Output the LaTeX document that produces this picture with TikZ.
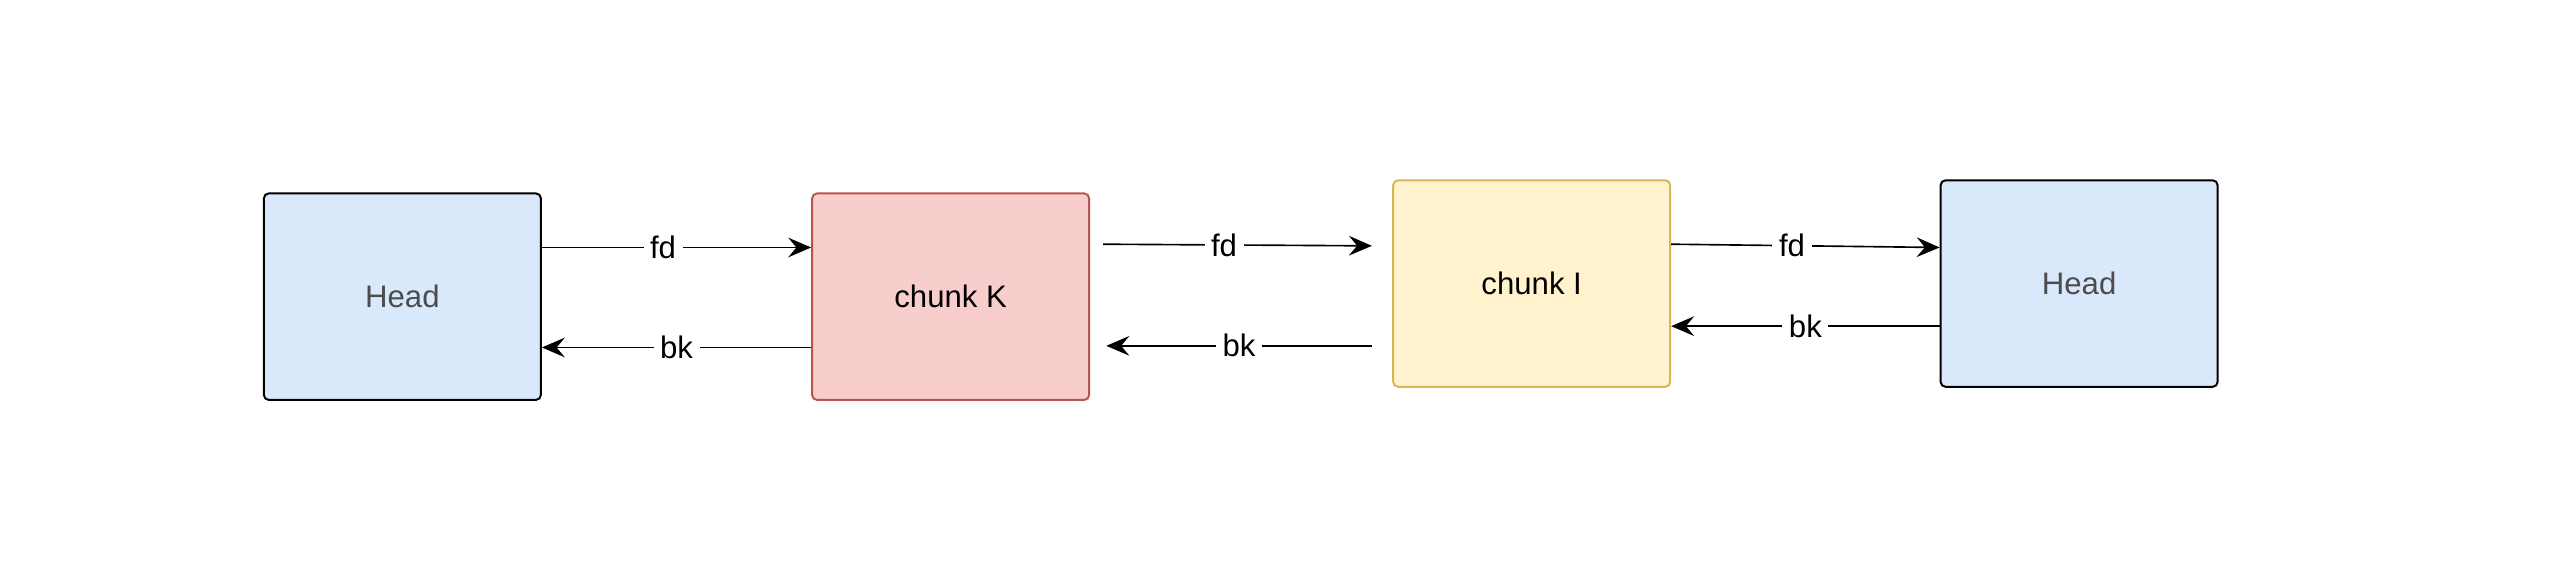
\documentclass[tikz,border=0pt]{standalone}
\usepackage{fontspec}
\setmainfont{Liberation Sans}
\usetikzlibrary{arrows.meta}
\definecolor{headfill}{HTML}{DAE8FC}
\definecolor{kfill}{HTML}{F8CECC}
\definecolor{kdraw}{HTML}{B85450}
\definecolor{ifill}{HTML}{FFF2CC}
\definecolor{idraw}{HTML}{D6B656}
\tikzset{
    chunk/.style = {rectangle, draw, rounded corners=1.5pt, line width=0.6pt,
        minimum width=84.5pt, minimum height=63pt, font=\fontsize{9.5}{11}\selectfont},
    link/.style = {-{Stealth[length=7pt,width=6pt,inset=2.5pt]}, line width=0.5pt},
    tag/.style = {fill=white, inner sep=2pt, font=\fontsize{9.5}{11}\selectfont}
}

\begin{document}
\begin{tikzpicture}[x=0.5pt, y=-0.5pt]
    \useasboundingbox (0,0) rectangle (1568,357.5);
    \node (h1) [chunk, fill=headfill, text=black!70] at (245.5,181) {Head};
    \node (ck) [chunk, fill=kfill, draw=kdraw] at (580,181) {chunk K};
    \node (ci) [chunk, fill=ifill, draw=idraw] at (934.5,173) {chunk I};
    \node (h2) [chunk, fill=headfill, text=black!70] at (1268.5,173) {Head};

    % loose ends between chunk K and chunk I
    \coordinate (kfd) at (673,149);
    \coordinate (ifd) at (837,150);
    \coordinate (ibk) at (837,211);
    \coordinate (kbk) at (675,211);

    \draw [link] (h1.east |- 0,151) -- node[tag, pos=0.45] {fd} (ck.west |- 0,151);
    \draw [link] (ck.west |- 0,212) -- node[tag, pos=0.5] {bk} (h1.east |- 0,212);
    \draw [link] (kfd) -- node[tag, pos=0.45] {fd} (ifd);
    \draw [link] (ibk) -- node[tag, pos=0.5] {bk} (kbk);
    \draw [link] (ci.east |- 0,149) -- node[tag, pos=0.45] {fd} (h2.west |- 0,151);
    \draw [link] (h2.west |- 0,199) -- node[tag, pos=0.5] {bk} (ci.east |- 0,199);
\end{tikzpicture}
\end{document}
